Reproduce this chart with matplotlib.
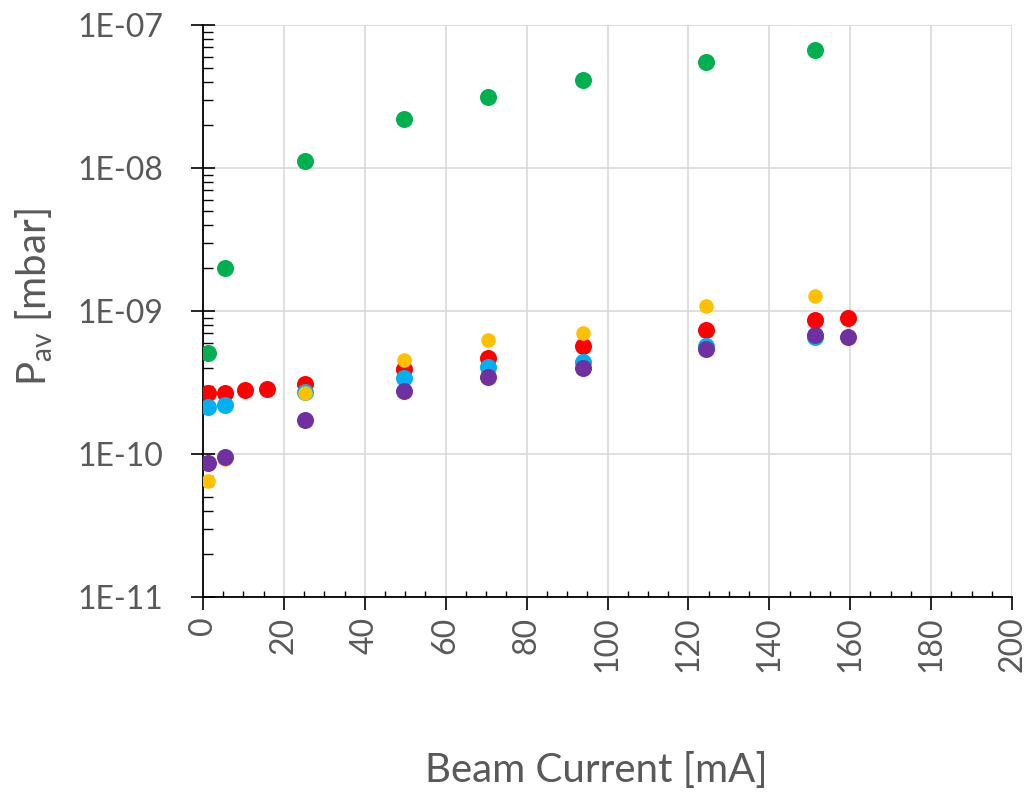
import numpy as np
import matplotlib.pyplot as plt
from matplotlib.ticker import FuncFormatter, MultipleLocator, LogLocator, NullFormatter

plt.rcParams['font.family'] = ['Lato', 'DejaVu Sans']
plt.rcParams['mathtext.fontset'] = 'custom'
plt.rcParams['mathtext.rm'] = 'Lato'

# data (beam current in mA, pressure in mbar)
green_x = [1.2, 5.4, 25.2, 49.7, 70.5, 94.0, 124.4, 151.3]
green_y = [5.1e-10, 2.0e-9, 1.12e-8, 2.2e-8, 3.14e-8, 4.12e-8, 5.5e-8, 6.68e-8]

red_x = [1.2, 5.4, 10.4, 15.8, 25.2, 49.7, 70.5, 94.0, 124.4, 151.3, 159.5]
red_y = [2.67e-10, 2.65e-10, 2.8e-10, 2.85e-10, 3.09e-10, 3.92e-10, 4.69e-10,
         5.69e-10, 7.36e-10, 8.65e-10, 8.93e-10]

cyan_x = [1.2, 5.4, 25.2, 49.7, 70.5, 94.0, 124.4, 151.3]
cyan_y = [2.13e-10, 2.2e-10, 2.72e-10, 3.4e-10, 4.06e-10, 4.4e-10, 5.69e-10, 6.58e-10]

yellow_x = [1.2, 5.4, 25.2, 49.7, 70.5, 94.0, 124.4, 151.3]
yellow_y = [6.47e-11, 9.2e-11, 2.67e-10, 4.54e-10, 6.27e-10, 7.0e-10, 1.08e-9, 1.27e-9]

purple_x = [1.2, 5.4, 25.2, 49.7, 70.5, 94.0, 124.4, 151.3, 159.5]
purple_y = [8.65e-11, 9.5e-11, 1.73e-10, 2.76e-10, 3.45e-10, 3.99e-10, 5.42e-10,
            6.79e-10, 6.58e-10]

fig = plt.figure(figsize=(10.27, 7.92), dpi=100)
ax = fig.add_axes([203/1027, 1 - 597/792, 809/1027, 572/792])

ax.scatter(green_x, green_y, s=150, color='#00B050', linewidths=0, zorder=3)
ax.scatter(red_x, red_y, s=150, color='#FF0000', linewidths=0, zorder=3)
ax.scatter(cyan_x, cyan_y, s=150, color='#00B0F0', linewidths=0, zorder=3)
ax.scatter(yellow_x, yellow_y, s=110, color='#FFC000', linewidths=0, zorder=3)
ax.scatter(purple_x, purple_y, s=150, color='#7030A0', linewidths=0, zorder=3)

ax.set_yscale('log')
ax.set_ylim(1e-11, 1e-7)
ax.set_xlim(0, 200)

ax.xaxis.set_major_locator(MultipleLocator(20))
ax.xaxis.set_minor_locator(MultipleLocator(5))
ax.yaxis.set_major_locator(LogLocator(base=10))
ax.yaxis.set_minor_locator(LogLocator(base=10, subs=np.arange(2, 10)))
ax.yaxis.set_minor_formatter(NullFormatter())
ax.yaxis.set_major_formatter(FuncFormatter(lambda v, _: f"{v:.0E}"))

ax.grid(True, which='major', color='#D9D9D9', linewidth=1.2)
ax.set_axisbelow(True)

for s in ['top', 'right']:
    ax.spines[s].set_visible(False)
for s in ['left', 'bottom']:
    ax.spines[s].set_color('black')
    ax.spines[s].set_linewidth(1.3)

ax.tick_params(axis='x', which='major', direction='out', length=9, width=1.2,
               labelsize=23, labelcolor='#595959', labelrotation=90, pad=5)
ax.tick_params(axis='x', which='minor', direction='in', length=4.5, width=1.0)
ax.tick_params(axis='y', which='major', direction='inout', length=17, width=1.2,
               labelsize=23, labelcolor='#595959', pad=20)
ax.tick_params(axis='y', which='minor', direction='in', length=7, width=1.0)

fig.text(34/1027, 1 - 297/792, r'P$_{\mathregular{av}}$ [mbar]', rotation=90,
         ha='center', va='center', fontsize=29, color='#595959')
fig.text(596/1027, 1 - 770/792, 'Beam Current [mA]', ha='center', va='center',
         fontsize=29, color='#595959')

fig.savefig('out.png', dpi=100)
